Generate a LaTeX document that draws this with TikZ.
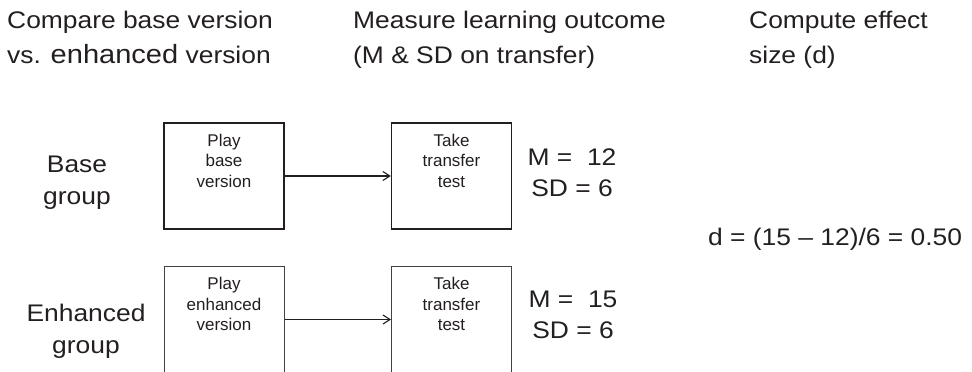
\documentclass[tikz,border=0pt]{standalone}
\usepackage{fontspec}
\setmainfont{Liberation Sans}
\newfontfamily\widefont{Liberation Sans}[FakeStretch=1.1]
\usetikzlibrary{arrows.meta}
\definecolor{ink}{HTML}{231F20}
% multi-line text whose baseline is the baseline of its first line
\newcommand\cstack[1]{\vtop{\halign{\hfil##\hfil\cr#1\crcr}}}
\newcommand\lstack[1]{\vtop{\halign{##\hfil\cr#1\crcr}}}
\tikzset{
  big/.style={text=ink, inner sep=0pt, font=\widefont\fontsize{24}{35}\selectfont},
  biglabel/.style={big, font=\widefont\fontsize{24}{32}\selectfont},
  stats/.style={big, font=\widefont\fontsize{24}{31.5}\selectfont},
  boxtext/.style={text=ink, inner sep=0pt, font=\fontsize{17}{20.5}\selectfont, anchor=base},
  stagebox/.style={draw=ink, line width=1.3pt, minimum width=120pt, minimum height=106pt, inner sep=0pt},
  stageboxlight/.style={stagebox, draw=ink!85, line width=1pt, minimum height=107pt},
  arr/.style={draw=ink, line width=1.2pt, -{Straight Barb[length=7pt,width=9pt,line width=1.1pt]}}
}
\begin{document}
\begin{tikzpicture}[x=1pt,y=-1pt]
\useasboundingbox (0,0) rectangle (972,372);

% column headings
\node[big, anchor=base west] (head1) at (7,28)
  {\lstack{Compare base version\cr vs. {\fontsize{26.4}{35}\selectfont enhanced} version}};
\node[big, anchor=base west] (head2) at (353,28)
  {\lstack{Measure learning outcome\cr (M \& SD on transfer)}};
\node[big, anchor=base west] (head3) at (749,28)
  {\lstack{Compute effect\cr size (d)}};

% group labels
\node[biglabel, anchor=base] (lblbase) at (77,172) {\cstack{Base\cr group}};
\node[biglabel, anchor=base] (lblenh) at (86,321) {\cstack{Enhanced\cr group}};

% base group row
\node[stagebox] (playbase) at (224,176) {};
\node[stagebox] (testbase) at (451.5,176) {};
\node[boxtext] (playbasetxt) at ([yshift=-24pt]playbase.north) {\cstack{Play\cr base\cr version}};
\node[boxtext] (testbasetxt) at ([yshift=-24pt]testbase.north) {\cstack{Take\cr transfer\cr test}};
\draw[arr] (playbase) -- (testbase);
\node[stats, anchor=base] (statsbase) at (572,165) {\cstack{M =\ \ 12\cr SD = 6}};

% enhanced group row
\node[stageboxlight] (playenh) at (224,319.5) {};
\node[stageboxlight] (testenh) at (451.5,319.5) {};
\node[boxtext] (playenhtxt) at ([yshift=-24pt]playenh.north) {\cstack{Play\cr enhanced\cr version}};
\node[boxtext] (testenhtxt) at ([yshift=-24pt]testenh.north) {\cstack{Take\cr transfer\cr test}};
\draw[arr] (playenh) -- (testenh);
\node[stats, anchor=base] (statsenh) at (573,307) {\cstack{M =\ \ 15\cr SD = 6}};

% effect size
\node[big, anchor=base west] (effect) at (708,245) {d = (15 \textendash{} 12)/6 = 0.50};
\end{tikzpicture}
\end{document}
